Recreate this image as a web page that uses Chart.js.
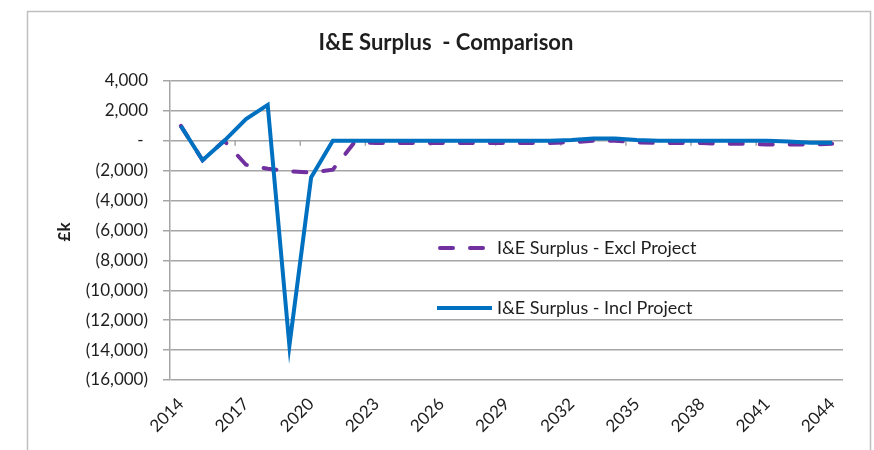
<!DOCTYPE html>
<html>
<head>
<meta charset="utf-8">
<title>I&amp;E Surplus - Comparison</title>
<script src="https://cdn.jsdelivr.net/npm/chart.js@4.4.0/dist/chart.umd.min.js"></script>
<style>
  html, body { margin: 0; padding: 0; background: #fff; }
  #wrap { width: 874px; height: 450px; }
</style>
</head>
<body>
<div id="wrap"><canvas id="chart" width="874" height="450"></canvas></div>
<script>
// categories (years)
const years = ["2014", "2015", "2016", "2017", "2018", "2019", "2020", "2021", "2022", "2023",
  "2024", "2025", "2026", "2027", "2028", "2029", "2030", "2031", "2032", "2033",
  "2034", "2035", "2036", "2037", "2038", "2039", "2040", "2041", "2042", "2043", "2044"];

// £k
const exclProject = [1000, -1300, 0, -1600, -1870, -2040, -2130, -1930, -100, -150,
  -150, -150, -150, -150, -150, -150, -150, -150, -100, 0,
  0, -100, -150, -150, -150, -200, -200, -250, -250, -250, -200];
const inclProject = [1000, -1300, 0, 1450, 2400, -13700, -2450, 0, 0, 0,
  0, 0, 0, 0, 0, 0, 0, 0, 50, 150,
  150, 50, 0, 0, 0, 0, 0, 0, -50, -130, -130];

const xTickLabels = ["2014", "2017", "2020", "2023", "2026", "2029", "2032", "2035", "2038", "2041", "2044"];
const yMin = -16000;
const yMax = 4000;
const yStep = 2000;

const seriesNames = ["I&E Surplus - Excl Project", "I&E Surplus - Incl Project"];
const chartTitle = "I&E Surplus  - Comparison";
const yTitle = "£k";

const FONT = "Lato, 'Open Sans', sans-serif";
const TEXT = "#1e1e1e";
const GRID = "#a6a6a6";
const BLUE = "#0070c0";
const PURPLE = "#7030a0";

function fmt(v) {
  if (v === 0) return "- ";
  const s = Math.abs(v).toLocaleString("en-US");
  return v < 0 ? "(" + s + ")" : s;
}

// frame, title, axis title, zero-axis ticks and the in-plot legend
const decorations = {
  id: "decorations",
  beforeDraw(chart) {
    const ctx = chart.ctx;
    ctx.save();
    ctx.fillStyle = "#fff";
    ctx.fillRect(0, 0, chart.width, chart.height);
    ctx.strokeStyle = "#bfbfbf";
    ctx.lineWidth = 1.5;
    ctx.strokeRect(27.5, 11.5, 843, 460);
    ctx.restore();
  },
  beforeDatasetsDraw(chart) {
    const ctx = chart.ctx;
    const x = chart.scales.x, y = chart.scales.y;
    const y0 = y.getPixelForValue(0);
    ctx.save();
    ctx.strokeStyle = GRID;
    ctx.lineWidth = 1.5;
    ctx.beginPath();
    for (let i = 3; i < years.length; i += 3) {
      const px = (x.getPixelForValue(i - 1) + x.getPixelForValue(i)) / 2;
      ctx.moveTo(px, y0);
      ctx.lineTo(px, y0 + 5);
    }
    ctx.stroke();
    ctx.restore();
  },
  afterDatasetsDraw(chart) {
    const ctx = chart.ctx;
    ctx.save();
    // title
    ctx.fillStyle = TEXT;
    ctx.font = "bold 22px " + FONT;
    ctx.textAlign = "center";
    ctx.textBaseline = "middle";
    ctx.fillText(chartTitle, 446, 43);
    // y axis title
    ctx.save();
    ctx.translate(65, 232);
    ctx.rotate(-Math.PI / 2);
    ctx.font = "bold 17px " + FONT;
    ctx.fillText(yTitle, 0, 0);
    ctx.restore();
    // legend
    ctx.lineWidth = 4;
    ctx.lineCap = "round";
    ctx.strokeStyle = PURPLE;
    ctx.setLineDash([13, 17]);
    ctx.beginPath();
    ctx.moveTo(440, 248);
    ctx.lineTo(488, 248);
    ctx.stroke();
    ctx.setLineDash([]);
    ctx.strokeStyle = BLUE;
    ctx.lineCap = "butt";
    ctx.beginPath();
    ctx.moveTo(437, 308);
    ctx.lineTo(492, 308);
    ctx.stroke();
    ctx.font = "18px " + FONT;
    ctx.textAlign = "left";
    ctx.fillStyle = TEXT;
    ctx.fillText(seriesNames[0], 497, 248);
    ctx.fillText(seriesNames[1], 497, 308);
    ctx.restore();
  }
};

new Chart(document.getElementById("chart"), {
  type: "line",
  data: {
    labels: years,
    datasets: [
      {
        label: seriesNames[0],
        data: exclProject,
        borderColor: PURPLE,
        borderWidth: 4,
        borderDash: [13, 17],
        borderCapStyle: "round",
        pointRadius: 0,
        tension: 0,
        order: 1
      },
      {
        label: seriesNames[1],
        data: inclProject,
        borderColor: BLUE,
        borderWidth: 4,
        borderJoinStyle: "miter",
        pointRadius: 0,
        tension: 0,
        order: 0
      }
    ]
  },
  options: {
    responsive: false,
    animation: false,
    layout: { padding: { left: 0, right: 31, top: 81, bottom: 0 } },
    plugins: {
      legend: { display: false },
      title: { display: false },
      tooltip: { enabled: false }
    },
    scales: {
      x: {
        type: "category",
        offset: true,
        grid: { display: false, drawTicks: false },
        border: { display: false },
        ticks: {
          autoSkip: false,
          minRotation: 45,
          maxRotation: 45,
          padding: 14,
          color: TEXT,
          font: { family: FONT, size: 17 },
          callback(v) {
            const l = this.getLabelForValue(v);
            return xTickLabels.includes(l) ? l : "";
          }
        },
        afterFit(scale) { scale.height = 70; }
      },
      y: {
        min: yMin,
        max: yMax,
        ticks: {
          stepSize: yStep,
          padding: 15,
          color: TEXT,
          font: { family: FONT, size: 17 },
          callback: fmt
        },
        grid: { color: GRID, lineWidth: 1.5, tickLength: 7 },
        border: { display: true, color: GRID, width: 1.5 },
        afterFit(scale) { scale.width = 170; }
      }
    }
  },
  plugins: [decorations]
});
</script>
</body>
</html>
